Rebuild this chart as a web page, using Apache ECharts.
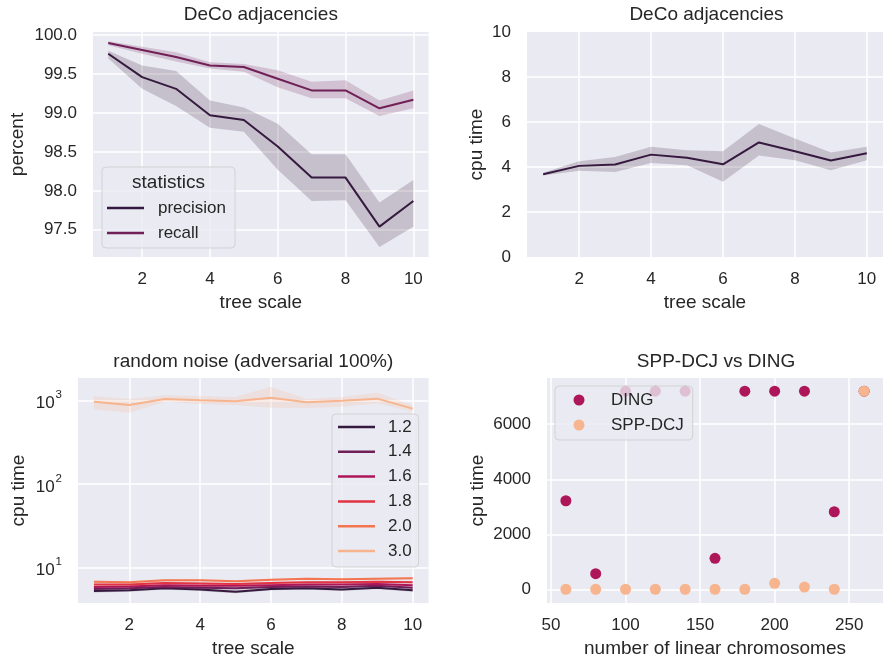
<!DOCTYPE html>
<html>
<head>
<meta charset="utf-8">
<script src="https://cdn.jsdelivr.net/npm/echarts@6/dist/echarts.min.js"></script>
<style>html,body{margin:0;padding:0;background:#fff;}#c{width:883px;height:660px;}</style>
</head>
<body>
<div id="c"></div>
<script>
// ---------- data ----------
const treeScale = [1, 2, 3, 4, 5, 6, 7, 8, 9, 10];

const precision   = [99.76, 99.46, 99.31, 98.97, 98.91, 98.57, 98.17, 98.17, 97.54, 97.87];
const precisionLo = [99.70, 99.31, 99.09, 98.81, 98.76, 98.27, 97.87, 97.88, 97.28, 97.54];
const precisionHi = [99.80, 99.61, 99.54, 99.16, 99.07, 98.86, 98.47, 98.47, 97.85, 98.14];
const recall      = [99.90, 99.81, 99.72, 99.61, 99.59, 99.44, 99.29, 99.29, 99.06, 99.17];
const recallLo    = [99.87, 99.76, 99.66, 99.57, 99.53, 99.33, 99.19, 99.19, 98.96, 99.06];
const recallHi    = [99.92, 99.85, 99.78, 99.65, 99.63, 99.55, 99.40, 99.42, 99.16, 99.29];

const decoCpu   = [3.68, 4.05, 4.11, 4.55, 4.41, 4.12, 5.09, 4.70, 4.29, 4.61];
const decoCpuLo = [3.62, 3.83, 3.78, 4.18, 4.08, 3.34, 4.51, 4.30, 3.86, 4.30];
const decoCpuHi = [3.75, 4.26, 4.45, 4.90, 4.75, 4.70, 5.91, 5.27, 4.64, 4.90];

const noiseNames = ['1.2', '1.4', '1.6', '1.8', '2.0', '3.0'];
const noise12   = [5.2, 5.3, 5.6, 5.4, 5.1, 5.5, 5.6, 5.4, 5.7, 5.3];
const noise12Lo = [5.0, 5.1, 5.4, 5.2, 4.9, 5.3, 5.4, 5.2, 5.5, 5.1];
const noise12Hi = [5.4, 5.5, 5.8, 5.6, 5.3, 5.7, 5.8, 5.6, 5.9, 5.5];
const noise14   = [5.5, 5.6, 5.8, 5.7, 5.6, 5.8, 5.9, 5.8, 6.0, 5.7];
const noise14Lo = [5.3, 5.4, 5.6, 5.5, 5.4, 5.6, 5.7, 5.6, 5.8, 5.5];
const noise14Hi = [5.7, 5.8, 6.0, 5.9, 5.8, 6.0, 6.1, 6.0, 6.2, 5.9];
const noise16   = [5.8, 5.9, 6.1, 6.0, 6.0, 6.1, 6.2, 6.2, 6.3, 6.1];
const noise16Lo = [5.6, 5.7, 5.9, 5.8, 5.8, 5.9, 6.0, 6.0, 6.1, 5.9];
const noise16Hi = [6.0, 6.1, 6.3, 6.2, 6.2, 6.3, 6.4, 6.4, 6.5, 6.3];
const noise18   = [6.2, 6.2, 6.5, 6.4, 6.3, 6.5, 6.6, 6.6, 6.7, 6.6];
const noise18Lo = [6.0, 6.0, 6.3, 6.2, 6.1, 6.3, 6.4, 6.4, 6.5, 6.4];
const noise18Hi = [6.4, 6.4, 6.7, 6.6, 6.5, 6.7, 6.8, 6.8, 6.9, 6.8];
const noise20   = [6.7, 6.6, 7.0, 7.0, 6.8, 7.1, 7.3, 7.2, 7.3, 7.4];
const noise20Lo = [6.5, 6.4, 6.8, 6.8, 6.6, 6.9, 7.1, 7.0, 7.1, 7.2];
const noise20Hi = [6.9, 6.8, 7.2, 7.2, 7.0, 7.3, 7.5, 7.4, 7.5, 7.6];
const noise30   = [973, 887, 1047, 1009, 982, 1086, 955, 1000, 1057, 802];
const noise30Lo = [787, 718, 973, 912, 887, 824, 817, 847, 929, 738];
const noise30Hi = [1138, 1047, 1159, 1138, 1109, 1472, 1047, 1109, 1247, 887];

const chromosomes = [60, 80, 100, 120, 140, 160, 180, 200, 220, 240, 260];
const dingTime    = [3220, 570, 7200, 7200, 7200, 1130, 7200, 7200, 7200, 2820, 7200];
const sppTime     = [5, 5, 5, 5, 5, 5, 5, 220, 85, 5, 7200];

// ---------- style ----------
const FONT = "'Liberation Sans', Arial, Helvetica, sans-serif";
const TXT = '#262626';
const BG = '#eaeaf2';
const C6 = ['#35193e', '#701f57', '#ad1759', '#e13342', '#f37651', '#f6b48f'];
const TICK = 17, LAB = 19;

function rgba(hex, a) {
  const n = parseInt(hex.slice(1), 16);
  return 'rgba(' + (n >> 16 & 255) + ',' + (n >> 8 & 255) + ',' + (n & 255) + ',' + a + ')';
}
function pairs(xs, ys) { return xs.map((x, i) => [x, ys[i]]); }

function band(idx, xs, lo, hi, color) {
  return {
    type: 'custom', xAxisIndex: idx, yAxisIndex: idx, silent: true, z: 1,
    data: xs.map((x, i) => [x, lo[i], hi[i]]),
    encode: { x: 0, y: [1, 2] },
    renderItem: function (params, api) {
      if (params.dataIndex !== 0) return null;
      const pts = [];
      for (let i = 0; i < xs.length; i++) pts.push(api.coord([xs[i], hi[i]]));
      for (let i = xs.length - 1; i >= 0; i--) pts.push(api.coord([xs[i], lo[i]]));
      return { type: 'polygon', shape: { points: pts }, style: { fill: rgba(color, 0.2) } };
    }
  };
}
function line(idx, name, xs, ys, color) {
  return {
    type: 'line', name: name, xAxisIndex: idx, yAxisIndex: idx, z: 3,
    data: pairs(xs, ys), symbol: 'none', showSymbol: false,
    lineStyle: { color: color, width: 2 }, itemStyle: { color: color }
  };
}
const SPLIT = { show: true, showMinLine: false, showMaxLine: false, lineStyle: { color: '#ffffff', width: 1.5 } };
function xAxisOf(idx, min, max, step, name) {
  return {
    type: 'value', gridIndex: idx, min: min, max: max, minInterval: step, maxInterval: step,
    name: name, nameLocation: 'middle', nameGap: 36,
    nameTextStyle: { fontFamily: FONT, fontSize: LAB, color: TXT },
    axisLine: { show: false }, axisTick: { show: false },
    axisLabel: { fontFamily: FONT, fontSize: TICK, color: TXT, margin: 13.5, showMinLabel: false, showMaxLabel: false },
    splitLine: SPLIT
  };
}
function yAxisOf(idx, min, max, step, name, gap, extra) {
  const ax = {
    type: 'value', gridIndex: idx, min: min, max: max, minInterval: step, maxInterval: step,
    name: name, nameLocation: 'middle', nameGap: gap,
    nameTextStyle: { fontFamily: FONT, fontSize: LAB, color: TXT },
    axisLine: { show: false }, axisTick: { show: false },
    axisLabel: { fontFamily: FONT, fontSize: TICK, color: TXT, margin: 16, showMinLabel: false, showMaxLabel: false,
      formatter: v => String(v) },
    splitLine: SPLIT
  };
  return Object.assign(ax, extra || {});
}

const chart = echarts.init(document.getElementById('c'), null, { renderer: 'canvas' });

const noiseSeries = [noise12, noise14, noise16, noise18, noise20, noise30];
const noiseLo = [noise12Lo, noise14Lo, noise16Lo, noise18Lo, noise20Lo, noise30Lo];
const noiseHi = [noise12Hi, noise14Hi, noise16Hi, noise18Hi, noise20Hi, noise30Hi];

const series = [];
// panel 0
series.push(band(0, treeScale, precisionLo, precisionHi, C6[0]));
series.push(band(0, treeScale, recallLo, recallHi, C6[1]));
series.push(line(0, 'precision', treeScale, precision, C6[0]));
series.push(line(0, 'recall', treeScale, recall, C6[1]));
// panel 1
series.push(band(1, treeScale, decoCpuLo, decoCpuHi, C6[0]));
series.push(line(1, 'cpu', treeScale, decoCpu, C6[0]));
// panel 2
noiseNames.forEach((n, k) => series.push(band(2, treeScale, noiseLo[k], noiseHi[k], C6[k])));
noiseNames.forEach((n, k) => series.push(line(2, n, treeScale, noiseSeries[k], C6[k])));
// panel 3
series.push({ type: 'scatter', name: 'DING', xAxisIndex: 3, yAxisIndex: 3, z: 2, symbolSize: 11,
  data: pairs(chromosomes, dingTime), itemStyle: { color: C6[2], opacity: 1 } });
series.push({ type: 'scatter', name: 'SPP-DCJ', xAxisIndex: 3, yAxisIndex: 3, z: 2, symbolSize: 11,
  data: pairs(chromosomes, sppTime), itemStyle: { color: C6[5], opacity: 1 } });

const legendBase = {
  orient: 'vertical', itemGap: 8, backgroundColor: 'rgba(234,234,242,0.8)',
  borderColor: 'rgba(204,204,204,0.8)', borderWidth: 1, borderRadius: 4,
  textStyle: { fontFamily: FONT, fontSize: 17, color: TXT }, z: 6, selectedMode: false
};

const option = {
  animation: false,
  backgroundColor: '#ffffff',
  grid: [
    { left: 93, right: 454.4, top: 32, bottom: 403, show: true, backgroundColor: BG, borderWidth: 0 },
    { left: 527, right: -3, top: 32, bottom: 403, show: true, backgroundColor: BG, borderWidth: 0 },
    { left: 78, right: 454.4, top: 378, bottom: 57, show: true, backgroundColor: BG, borderWidth: 0 },
    { left: 547, right: -2, top: 378, bottom: 57, show: true, backgroundColor: BG, borderWidth: 0 }
  ],
  xAxis: [
    xAxisOf(0, 0.55, 10.45, 2, 'tree scale'),
    xAxisOf(1, 0.55, 10.45, 2, 'tree scale'),
    xAxisOf(2, 0.55, 10.45, 2, 'tree scale'),
    xAxisOf(3, 47.33, 272.67, 50, 'number of linear chromosomes')
  ],
  yAxis: [
    yAxisOf(0, 97.15, 100.04, 0.5, 'percent', 66, { axisLabel: { fontFamily: FONT, fontSize: TICK, color: TXT, margin: 16, showMinLabel: false, showMaxLabel: false, formatter: v => v.toFixed(1) } }),
    yAxisOf(1, 0, 10, 2, 'cpu time', 41, { interval: 2, minInterval: null, maxInterval: null,
      axisLabel: { fontFamily: FONT, fontSize: TICK, color: TXT, margin: 16 } }),
    yAxisOf(2, 3.73, 1870, null, 'cpu time', 50, {
      type: 'log', logBase: 10, minInterval: null, maxInterval: null,
      axisLabel: {
        fontFamily: FONT, color: TXT, margin: 16, showMinLabel: false, showMaxLabel: false,
        formatter: function (v) {
          const e = Math.log10(v);
          if (Math.abs(e - Math.round(e)) > 1e-6) return '';
          return '{b|10}{s|' + Math.round(e) + '}';
        },
        rich: {
          b: { fontFamily: FONT, fontSize: TICK, color: TXT, verticalAlign: 'bottom', padding: [6, 0, 0, 0] },
          s: { fontFamily: FONT, fontSize: 11.5, color: TXT, verticalAlign: 'top', padding: [0, 0, 0, 1] }
        }
      }
    }),
    yAxisOf(3, -495, 7680, 2000, 'cpu time', 60)
  ],
  legend: [
    Object.assign({}, legendBase, {
      data: ['precision', 'recall'], left: 102, top: 167,
      icon: 'rect', itemWidth: 37, itemHeight: 2.5,
      padding: [32.5, 9, 6.5, 5],
      textStyle: { fontFamily: FONT, fontSize: 17, color: TXT, padding: [0, 0, 0, 9] }
    }),
    Object.assign({}, legendBase, {
      data: noiseNames, left: 332, top: 414,
      icon: 'rect', itemWidth: 37, itemHeight: 2.5, itemGap: 7.8,
      padding: [4.5, 7, 7.5, 6],
      textStyle: { fontFamily: FONT, fontSize: 17, color: TXT, padding: [0, 0, 0, 8] }
    }),
    Object.assign({}, legendBase, {
      data: ['DING', 'SPP-DCJ'], left: 555, top: 386,
      icon: 'circle', itemWidth: 11, itemHeight: 11,
      padding: [5.5, 9, 6.5, 18.5],
      textStyle: { fontFamily: FONT, fontSize: 17, color: TXT, padding: [0, 0, 0, 21.5] }
    })
  ],
  graphic: [
    { type: 'text', x: 260.8, y: 15, z: 10, style: { text: 'DeCo adjacencies', font: '19px ' + FONT, fill: TXT, textAlign: 'center', textVerticalAlign: 'middle' } },
    { type: 'text', x: 706.5, y: 15, z: 10, style: { text: 'DeCo adjacencies', font: '19px ' + FONT, fill: TXT, textAlign: 'center', textVerticalAlign: 'middle' } },
    { type: 'text', x: 253.3, y: 362, z: 10, style: { text: 'random noise (adversarial 100%)', font: '19px ' + FONT, fill: TXT, textAlign: 'center', textVerticalAlign: 'middle' } },
    { type: 'text', x: 716, y: 362, z: 10, style: { text: 'SPP-DCJ vs DING', font: '19px ' + FONT, fill: TXT, textAlign: 'center', textVerticalAlign: 'middle' } },
    { type: 'text', x: 168.5, y: 183, z: 10, style: { text: 'statistics', font: '19px ' + FONT, fill: TXT, textAlign: 'center', textVerticalAlign: 'middle' } }
  ],
  series: series
};
chart.setOption(option);
</script>
</body>
</html>
